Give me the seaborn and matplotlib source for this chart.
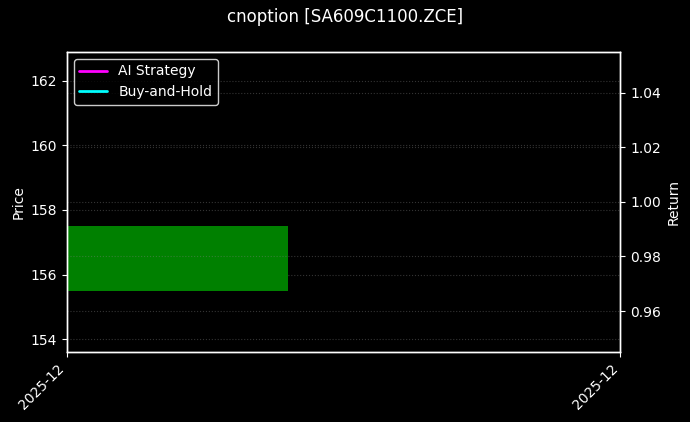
import matplotlib
matplotlib.use("Agg")
import matplotlib.pyplot as plt
import matplotlib.dates as mdates
import seaborn as sns
import pandas as pd

# data
dates = pd.to_datetime(["2025-12-15"])
open_px = [155.5]
close_px = [157.5]
ai_return = [1.0]
bh_return = [1.0]

sns.set_theme(style="dark", rc={
    "figure.facecolor": "black",
    "axes.facecolor": "black",
    "axes.edgecolor": "white",
    "axes.labelcolor": "white",
    "axes.linewidth": 1.0,
    "text.color": "white",
    "xtick.color": "white",
    "ytick.color": "white",
    "xtick.bottom": True,
    "ytick.left": True,
    "xtick.major.size": 3.5,
    "ytick.major.size": 3.5,
    "xtick.major.width": 0.8,
    "ytick.major.width": 0.8,
    "font.size": 10,
    "axes.labelsize": 10,
    "xtick.labelsize": 10,
    "ytick.labelsize": 10,
    "legend.fontsize": 10,
})
plt.rcParams["font.family"] = ["DejaVu Sans"]

fig, ax = plt.subplots(figsize=(6.9, 4.22), dpi=100)
fig.subplots_adjust(left=0.097, right=0.899, top=0.877, bottom=0.166)

x = mdates.date2num(dates)
width = 0.6
body_lo = [min(o, c) for o, c in zip(open_px, close_px)]
body_h = [abs(c - o) for o, c in zip(open_px, close_px)]
colors = ["green" if c >= o else "red" for o, c in zip(open_px, close_px)]
ax.bar(x, body_h, bottom=body_lo, width=width, color=colors, edgecolor="none", linewidth=0)

ax.set_ylabel("Price")
ax.set_ylim(153.6, 162.9)
ax.set_yticks([154, 156, 158, 160, 162])
ax.grid(True, axis="y", linestyle=":", color="gray", alpha=0.4, linewidth=0.8)

left = x[0] - width / 2
right = left + 2.5 * width
ax.set_xlim(left, right)
ax.set_xticks([left, right])
ax.xaxis.set_major_formatter(mdates.DateFormatter("%Y-%m"))
plt.setp(ax.get_xticklabels(), rotation=45, ha="right")

ax2 = ax.twinx()
sns.lineplot(x=x, y=ai_return, ax=ax2, color="magenta", linewidth=2, label="AI Strategy", legend=False)
sns.lineplot(x=x, y=bh_return, ax=ax2, color="cyan", linewidth=2, label="Buy-and-Hold", legend=False)
ax2.set_ylabel("Return")
ax2.set_ylim(0.945, 1.055)
ax2.set_yticks([0.96, 0.98, 1.00, 1.02, 1.04])
ax2.grid(True, axis="y", linestyle=":", color="gray", alpha=0.4, linewidth=0.8)
ax2.tick_params(axis="y", right=True, colors="white", length=3.5, width=0.8)
for sp in ax2.spines.values():
    sp.set_color("white")
    sp.set_linewidth(1.0)
ax2.set_xlim(left, right)

leg = ax2.legend(loc="upper left", facecolor="black", edgecolor="white", framealpha=0.8)
for t in leg.get_texts():
    t.set_color("white")

fig.suptitle("cnoption [SA609C1100.ZCE]", color="white", fontsize=12)
fig.savefig("out.png", dpi=100, facecolor="black")
